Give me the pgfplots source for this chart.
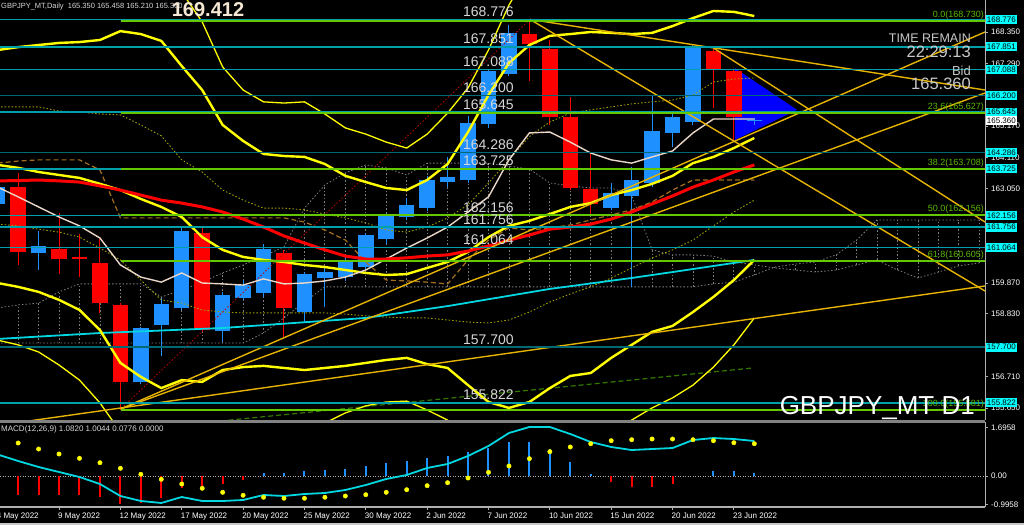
\documentclass[border=0pt]{standalone}
\usepackage{fontspec}
\setmainfont{Liberation Sans}
\usepackage{pgfplots}
\usepackage{pgfplotstable}
\pgfplotsset{compat=1.18}

\newcommand\fs[1]{\fontsize{#1}{#1}\selectfont}

\definecolor{cblue}{RGB}{30,144,255}
\definecolor{cred}{RGB}{255,0,0}
\definecolor{lvl}{RGB}{0,160,170}
\definecolor{lvld}{RGB}{0,105,115}
\definecolor{boxc}{RGB}{0,255,255}
\definecolor{fib}{RGB}{100,200,0}
\definecolor{fibt}{RGB}{90,185,0}
\definecolor{gold}{RGB}{230,180,0}
\definecolor{bby}{RGB}{255,255,0}
\definecolor{maw}{RGB}{235,215,200}
\definecolor{mac}{RGB}{0,215,225}
\definecolor{cloud}{RGB}{125,125,125}
\definecolor{oliv}{RGB}{160,160,0}
\definecolor{brn}{RGB}{165,110,30}
\definecolor{tri}{RGB}{0,0,255}
\definecolor{axg}{RGB}{175,175,175}
\definecolor{sepg}{RGB}{130,130,130}
\definecolor{txt}{RGB}{215,215,215}
\definecolor{ltg}{RGB}{200,200,200}
\definecolor{cream}{RGB}{245,232,212}
\definecolor{gdash}{RGB}{50,120,0}

% daily candles, i = bar index (0 = 4 May 2022)
\pgfplotstableread{
i o h l c
0 162.54 163.30 162.40 163.11
2 160.89 161.64 160.31 161.12
7 156.54 158.40 156.45 158.34
8 158.45 159.35 157.40 159.15
9 159.04 161.80 158.95 161.64
11 158.25 159.55 157.89 159.45
12 159.37 159.97 159.30 159.79
13 159.54 161.20 159.40 161.01
15 158.90 160.25 158.53 160.16
16 160.05 160.35 159.05 160.25
17 160.06 160.70 159.95 160.58
18 160.42 161.55 160.35 161.48
19 161.35 162.25 161.20 162.17
20 162.11 162.75 162.00 162.51
21 162.39 163.50 162.30 163.35
22 163.28 164.14 163.10 163.44
23 163.35 165.51 163.25 165.27
24 165.23 167.10 165.10 167.03
25 166.93 168.59 166.85 168.31
30 162.39 163.25 162.34 162.92
31 162.81 163.80 159.75 163.35
32 163.26 166.22 163.10 165.02
33 164.95 165.60 164.48 165.47
34 165.32 167.90 165.20 167.85
37 165.350 165.458 165.210 165.360
}\upbars

\pgfplotstableread{
i o h l c
1 163.10 163.60 160.48 160.93
3 161.03 162.22 160.17 160.68
4 160.74 161.53 160.07 160.68
5 160.54 161.35 158.85 159.18
6 159.13 159.20 155.58 156.53
10 161.57 161.80 158.22 158.28
14 160.89 161.00 158.06 159.04
26 168.27 168.776 166.70 167.93
27 167.77 168.08 165.21 165.49
28 165.47 166.16 163.00 163.07
29 163.06 164.31 162.17 162.53
35 167.71 167.80 165.77 167.07
36 167.03 167.10 164.64 165.49
}\downbars

\pgfplotstableread{
i red wht bbu bbm bbl dya dyb brn
0 163.32 163.11 167.74 163.86 159.87 165.82 161.86 163.92
1 163.33 162.78 167.84 163.76 159.74 165.82 161.80 163.99
2 163.35 162.44 167.91 163.62 159.57 165.82 161.69 164.03
3 163.32 162.10 167.98 163.52 159.30 165.68 161.59 164.03
4 163.28 161.80 168.01 163.42 158.96 165.65 161.42 164.03
5 163.15 161.39 168.08 163.22 158.28 165.58 161.05 163.69
6 163.01 160.48 168.38 163.01 157.17 165.55 160.65 162.07
7 162.84 160.07 168.28 162.71 156.70 165.21 159.97 162.07
8 162.67 159.90 168.05 162.44 156.32 164.84 159.30 162.07
9 162.57 160.21 167.20 162.10 156.59 164.03 159.19 162.07
10 162.44 159.87 166.39 161.42 156.53 163.62 158.96 162.07
11 162.27 159.84 165.21 160.99 156.93 163.01 158.89 162.07
12 162.03 159.80 164.67 160.75 157.03 162.67 158.86 162.07
13 161.76 160.01 164.23 160.65 157.07 162.40 158.86 162.07
14 161.46 159.84 164.16 160.58 157.00 162.40 158.86 162.07
15 161.22 159.87 164.13 160.48 156.93 162.34 158.86 161.93
16 160.99 159.94 163.89 160.41 157.00 162.20 158.86 161.66
17 160.78 160.07 163.49 160.31 157.07 162.07 158.82 161.32
18 160.68 160.31 163.28 160.21 157.17 161.90 158.76 160.58
19 160.68 160.68 163.08 160.14 157.27 161.66 158.72 159.97
20 160.72 161.05 163.01 160.17 157.34 161.59 158.69 159.94
21 160.78 161.39 163.35 160.38 157.13 161.76 158.69 159.90
22 160.82 161.76 163.89 160.58 157.00 162.07 158.62 159.84
23 160.95 162.27 164.97 160.92 156.42 162.51 158.55 160.65
24 161.12 162.78 166.22 161.42 155.85 163.25 158.52 161.32
25 161.32 164.03 167.30 161.80 155.65 164.03 158.62 161.73
26 161.49 164.94 167.91 161.97 155.85 164.82 158.89 161.66
27 161.69 164.97 168.22 162.20 156.32 165.31 159.23 161.73
28 161.76 164.63 168.28 162.44 156.73 165.61 159.50 161.83
29 161.86 164.26 168.35 162.57 156.83 165.72 159.74 162.00
30 162.03 164.03 168.32 162.84 157.34 165.82 160.04 162.17
31 162.27 163.92 168.28 163.01 157.78 165.92 160.38 162.34
32 162.54 164.13 168.32 163.22 158.22 165.99 160.72 162.61
33 162.81 164.33 168.55 163.49 158.42 166.05 160.99 163.01
34 163.11 164.94 168.82 163.92 158.89 166.22 161.32 163.35
35 163.35 165.41 169.06 164.13 159.40 166.66 161.80 163.35
36 163.62 165.41 169.03 164.43 159.97 166.76 162.27 163.35
37 163.86 165.41 168.89 164.77 160.65 166.80 162.67 163.35
}\ind

\pgfplotstableread{
i v
7 172.13
8 170.78
9 169.70
10 168.69
11 167.17
12 166.39
13 165.99
14 165.95
15 165.99
16 165.58
17 165.11
18 164.90
19 164.63
20 164.43
21 164.90
22 165.61
23 166.46
24 167.74
25 169.26
26 170.44
}\obu

\pgfplotstableread{
i v
0 157.94
1 157.78
2 157.54
3 157.10
4 156.59
5 155.82
6 154.84
7 154.23
10 153.80
14 154.23
15 154.57
16 155.14
17 155.48
18 155.72
19 155.85
20 155.88
21 155.58
22 155.24
23 154.57
26 153.80
29 153.89
30 154.74
31 155.24
32 155.65
33 155.99
34 156.42
35 157.03
36 157.78
37 158.69
}\obl

\pgfplotstableread{
i v
0 157.98
5 158.18
11 158.35
18 158.69
22 159.09
27 159.67
31 160.04
33 160.24
37 160.65
}\cma

\pgfplotstableread{
i a b
0 159.03 157.84
1 159.13 157.84
2 159.19 157.84
3 159.57 157.84
4 159.84 157.84
5 159.84 157.84
6 159.84 157.84
7 159.84 157.84
8 159.40 157.84
9 159.63 157.84
10 159.90 157.84
11 160.21 157.84
12 160.48 157.84
13 160.78 158.18
14 161.09 158.69
15 162.40 159.23
16 163.18 159.74
17 163.59 159.74
18 163.86 159.74
19 163.76 159.74
20 163.52 159.74
21 163.92 159.74
22 163.92 159.74
23 163.92 159.74
24 163.92 159.74
25 163.82 159.74
26 163.72 159.74
27 163.25 159.74
28 163.15 159.74
29 163.08 159.74
30 163.08 159.74
31 162.84 159.74
32 160.99 159.74
33 160.82 159.74
34 160.82 159.74
35 160.78 159.84
36 160.58 159.90
37 160.48 160.14
38 160.38 160.41
39 160.31 160.51
40 160.24 160.58
41 160.31 160.82
42 160.48 161.32
43 160.65 162.00
44 160.31 162.00
45 160.04 162.00
46 160.24 162.00
47 160.45 162.00
48 160.55 162.00
}\cloud

% MACD panel
\pgfplotstableread{
i h
1 -0.67
2 -0.67
3 -0.67
4 -0.67
5 -0.75
6 -0.98
7 -0.94
8 -0.78
9 -0.41
10 -0.46
11 -0.29
12 -0.14
30 -0.20
31 -0.37
32 -0.37
33 -0.28
}\hneg

\pgfplotstableread{
i h
13 0.09
14 0.12
15 0.19
16 0.21
17 0.25
18 0.36
19 0.47
20 0.53
21 0.64
22 0.69
23 0.83
24 0.99
25 1.20
26 1.20
27 0.94
28 0.50
29 0.07
35 0.18
36 0.16
37 0.12
}\hpos

\pgfplotstableread{
i m
0 0.754
1 0.526
2 0.316
3 0.140
4 -0.035
5 -0.281
6 -0.702
7 -0.877
8 -0.947
9 -0.737
10 -0.877
11 -0.877
12 -0.842
13 -0.667
14 -0.702
15 -0.632
16 -0.596
17 -0.491
18 -0.316
19 -0.105
20 0.035
21 0.281
22 0.421
23 0.702
24 1.053
25 1.509
26 1.719
27 1.719
28 1.474
29 1.193
30 1.018
31 0.912
32 0.947
33 0.982
34 1.263
35 1.333
36 1.298
37 1.228
}\macdl

\pgfplotstableread{
i s
1 1.158
2 0.947
3 0.772
4 0.621
5 0.467
6 0.270
7 0.060
8 -0.116
9 -0.281
10 -0.432
11 -0.572
12 -0.677
13 -0.747
14 -0.782
15 -0.782
16 -0.747
17 -0.702
18 -0.656
19 -0.572
20 -0.481
21 -0.340
22 -0.235
23 -0.070
24 0.130
25 0.351
26 0.607
27 0.853
28 1.018
29 1.133
30 1.239
31 1.274
32 1.298
33 1.298
34 1.274
35 1.239
36 1.168
37 1.133
}\sigl

\begin{document}
\begin{tikzpicture}
\fill[black] (0pt,0pt) rectangle (1024pt,525pt);

% ---------- price panel ----------
\begin{axis}[
  at={(-2.3pt,105pt)}, anchor=south west, scale only axis,
  width=987.3pt, height=420pt,
  xmin=0, xmax=48.28, ymin=155.242, ymax=169.431,
  clip mode=individual,
  axis x line=none, axis y line*=right,
  y axis line style={-, draw=axg, line width=1pt},
  tick align=outside, major tick length=3pt,
  tick style={draw=axg, line width=0.8pt},
  ytick={155.650,156.710,158.830,159.870,163.050,164.110,165.170,167.290,168.350},
  yticklabels={155.650,156.710,158.830,159.870,163.050,164.110,165.170,167.290,168.350},
  yticklabel style={font=\fs{8}, text=white, anchor=west, inner sep=0pt, xshift=3pt},
  extra y ticks={155.822,157.700,161.064,161.756,162.156,163.725,164.286,165.645,166.200,167.088,167.851,168.776},
  extra y tick labels={155.822,157.700,161.064,161.756,162.156,163.725,164.286,165.645,166.200,167.088,167.851,168.776},
  extra y tick style={major tick length=0pt, yticklabel style={fill=boxc, text=black, inner xsep=1.2pt, inner ysep=1.6pt, xshift=-2.5pt}},
]
% triangle object
\addplot[fill=tri, draw=none] coordinates {(36.05,167.13) (39.09,165.72) (36.05,164.70)};

% cloud
\addplot[draw=none, error bars/.cd, y dir=plus, y explicit, error mark=none,
  error bar style={draw=cloud, line width=0.8pt, dash pattern=on 1.5pt off 2pt}]
  table[x=i, y expr={min(\thisrow{a},\thisrow{b})}, y error expr={abs(\thisrow{a}-\thisrow{b})}] {\cloud};
\addplot[cloud, line width=0.8pt, dash pattern=on 1.5pt off 2pt] table[x=i, y=a] {\cloud};
\addplot[cloud, line width=0.8pt, dash pattern=on 1.5pt off 2pt] table[x=i, y=b] {\cloud};

% candles: wicks then bodies
\addplot[draw=none, error bars/.cd, y dir=plus, y explicit, error mark=none,
  error bar style={draw=cblue, line width=1pt}]
  table[x=i, y=l, y error expr={\thisrow{h}-\thisrow{l}}] {\upbars};
\addplot[draw=none, error bars/.cd, y dir=plus, y explicit, error mark=none,
  error bar style={draw=cred, line width=1pt}]
  table[x=i, y=l, y error expr={\thisrow{h}-\thisrow{l}}] {\downbars};
\addplot[draw=none, error bars/.cd, y dir=plus, y explicit, error mark=none,
  error bar style={draw=cblue, line width=15.5pt}]
  table[x=i, y=o, y error expr={\thisrow{c}-\thisrow{o}}] {\upbars};
\addplot[draw=none, error bars/.cd, y dir=plus, y explicit, error mark=none,
  error bar style={draw=cred, line width=15.5pt}]
  table[x=i, y=c, y error expr={\thisrow{o}-\thisrow{c}}] {\downbars};

% dotted / dashed helper lines
\addplot[oliv, line width=0.9pt, dash pattern=on 1.5pt off 2pt] table[x=i, y=dya] {\ind};
\addplot[oliv, line width=0.9pt, dash pattern=on 1.5pt off 2pt] table[x=i, y=dyb] {\ind};
\addplot[brn, line width=1.2pt, dash pattern=on 5pt off 3pt] table[x=i, y=brn] {\ind};
\addplot[red!75!black, line width=0.8pt, dash pattern=on 1.5pt off 2pt] coordinates {(6.03,155.62) (26.03,168.776)};
\addplot[gdash, line width=1.2pt, dash pattern=on 5pt off 3pt] coordinates {(7,154.94) (36.93,157.00)};

% moving averages and bands
\addplot[mac, line width=1.8pt] table[x=i, y=v] {\cma};
\addplot[bby, line width=1.3pt] table[x=i, y=v] {\obu};
\addplot[bby, line width=1.3pt] table[x=i, y=v] {\obl};
\addplot[bby, line width=2.4pt] table[x=i, y=bbu] {\ind};
\addplot[bby, line width=2.4pt] table[x=i, y=bbm] {\ind};
\addplot[bby, line width=2.4pt] table[x=i, y=bbl] {\ind};
\addplot[maw, line width=1.4pt] table[x=i, y=wht] {\ind};
\addplot[cred, line width=3pt] table[x=i, y=red] {\ind};

% trend lines
\addplot[gold, line width=1.4pt] coordinates {(6.03,155.62) (48.28,168.35)};
\addplot[gold, line width=1.4pt] coordinates {(6.03,155.62) (48.28,166.29)};
\addplot[gold, line width=1.4pt] coordinates {(0,155.06) (48.28,159.77)};
\addplot[gold, line width=1.4pt] coordinates {(26.03,168.776) (48.28,166.39)};
\addplot[gold, line width=1.4pt] coordinates {(26.03,168.776) (48.28,159.60)};
\addplot[gold, line width=1.4pt] coordinates {(35,167.81) (48.28,161.93)};

% horizontal levels
\pgfplotsinvokeforeach{168.776,167.851,167.088,165.645,163.725,162.156,161.756,161.064,155.822}{
  \addplot[lvl, line width=1.5pt] coordinates {(0,#1) (49,#1)};
}
\pgfplotsinvokeforeach{166.200,164.286,157.700}{
  \addplot[lvld, line width=1.5pt] coordinates {(0,#1) (49,#1)};
}
% fibonacci levels
\pgfplotsinvokeforeach{168.730,165.627,163.708,162.156,160.605,155.581}{
  \addplot[fib, line width=2pt] coordinates {(6.03,#1) (49,#1)};
}

% level captions
\pgfplotsinvokeforeach{168.776,167.851,167.088,166.200,165.645,164.286,163.725,162.156,161.756,161.064,157.700,155.822}{
  \node[anchor=base west, inner sep=0pt, yshift=3pt, text=txt, font=\fs{14}] at (axis cs:22.75,#1) {#1};
}
\node[anchor=south east, inner sep=0pt, yshift=1.5pt, text=fibt, font=\fs{9}] at (axis cs:48.23,168.730) {0.0(168.730)};
\node[anchor=south east, inner sep=0pt, yshift=1.5pt, text=fibt, font=\fs{9}] at (axis cs:48.23,165.627) {23.6(165.627)};
\node[anchor=south east, inner sep=0pt, yshift=1.5pt, text=fibt, font=\fs{9}] at (axis cs:48.23,163.708) {38.2(163.708)};
\node[anchor=south east, inner sep=0pt, yshift=1.5pt, text=fibt, font=\fs{9}] at (axis cs:48.23,162.156) {50.0(162.156)};
\node[anchor=south east, inner sep=0pt, yshift=1.5pt, text=fibt, font=\fs{9}] at (axis cs:48.23,160.605) {61.8(160.605)};
\node[anchor=south east, inner sep=0pt, yshift=1.5pt, text=fibt, font=\fs{9}] at (axis cs:48.23,155.581) {100.0(155.581)};
\end{axis}

% ---------- MACD panel ----------
\begin{axis}[
  at={(-2.3pt,18pt)}, anchor=south west, scale only axis,
  width=987.3pt, height=85pt,
  xmin=0, xmax=48.28, ymin=-1.088, ymax=1.895,
  clip mode=individual,
  axis x line*=bottom, axis y line*=right,
  x axis line style={-, draw=axg, line width=1.5pt},
  y axis line style={-, draw=axg, line width=1pt},
  tick align=outside, major tick length=3pt,
  tick style={draw=axg, line width=0.8pt},
  xtick={0,3,...,36},
  xticklabels={4 May 2022,9 May 2022,12 May 2022,17 May 2022,20 May 2022,25 May 2022,30 May 2022,2 Jun 2022,7 Jun 2022,10 Jun 2022,15 Jun 2022,20 Jun 2022,23 Jun 2022},
  xticklabel style={font=\fs{8}, text=white, anchor=north west, inner sep=0pt, xshift=-1pt, yshift=-2.5pt},
  ytick={-0.9958,0,1.6958},
  yticklabels={-0.9958,0.00,1.6958},
  yticklabel style={font=\fs{8}, text=white, anchor=west, inner sep=0pt, xshift=3pt},
]
\addplot[axg, line width=0.8pt, dash pattern=on 1pt off 1.5pt] coordinates {(0,0) (48.28,0)};
\addplot[ycomb, cred, line width=2pt] table[x=i, y=h] {\hneg};
\addplot[ycomb, cblue, line width=2pt] table[x=i, y=h] {\hpos};
\addplot[mac, line width=1.8pt] table[x=i, y=m] {\macdl};
\addplot[only marks, mark=*, mark size=2.2pt, mark options={draw=bby, fill=bby}] table[x=i, y=s] {\sigl};
\end{axis}

% panel frames
\fill[sepg] (0pt,102.5pt) rectangle (985pt,105.5pt);
\draw[ltg, line width=2pt] (0pt,1.5pt) -- (1024pt,1.5pt);

% texts
\node[anchor=base west, inner sep=0pt, text=txt, font=\fs{7.5}] at (1pt,516.3pt) {GBPJPY\_MT,Daily\ \ 165.350 165.458 165.210 165.360};
\node[inner sep=0pt, text=cream, font=\bfseries\fs{20}] at (208pt,515pt) {169.412};
\node[anchor=east, inner sep=0pt, text=ltg, font=\fs{12.5}] at (971pt,487pt) {TIME REMAIN};
\node[anchor=east, inner sep=0pt, text=ltg, font=\fs{16.5}] at (971pt,473pt) {22:29:13};
\node[anchor=east, inner sep=0pt, text=ltg, font=\fs{13}] at (971pt,454pt) {Bid};
\node[anchor=east, inner sep=0pt, text=ltg, font=\fs{16.5}] at (971pt,441pt) {165.360};
\node[anchor=base east, inner sep=0pt, text=white, font=\fs{26}] at (975pt,111pt) {GBPJPY\_MT D1};
\node[anchor=base west, inner sep=0pt, text=txt, font=\fs{8}] at (1pt,94pt) {MACD(12,26,9) 1.0820 1.0044 0.0776 0.0000};
\node[anchor=west, fill=white, text=black, inner xsep=1.2pt, inner ysep=1.6pt, font=\fs{8}] at (985.5pt,404.5pt) {165.360};

\pgfresetboundingbox
\path[use as bounding box] (0pt,0pt) rectangle (1024pt,525pt);
\end{tikzpicture}
\end{document}
